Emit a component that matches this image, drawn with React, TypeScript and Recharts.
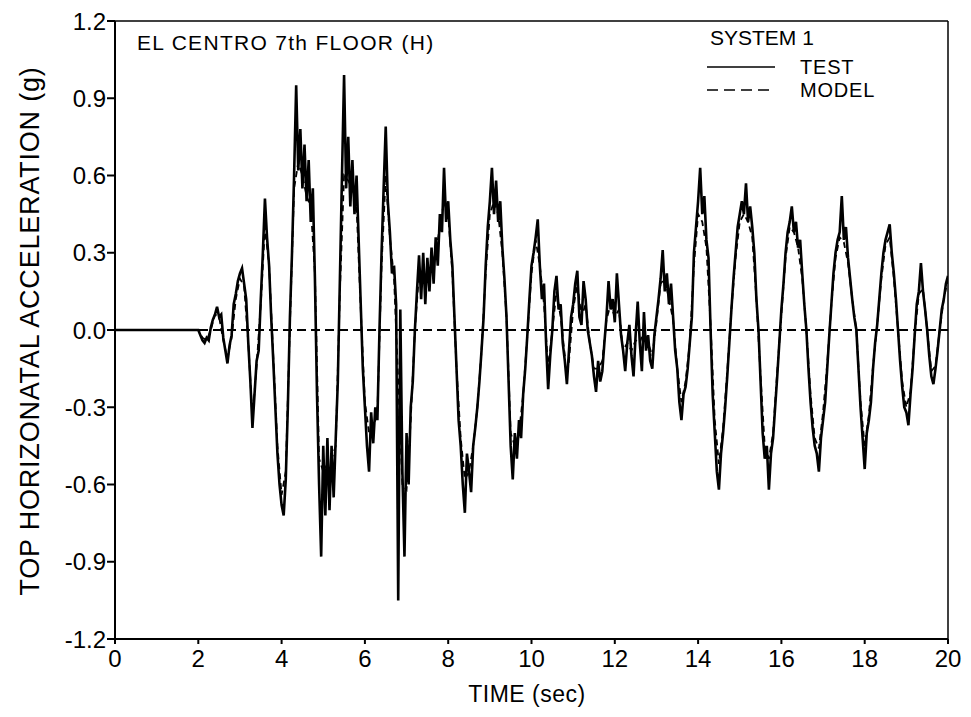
import React from "react";
import { LineChart, Line, XAxis, YAxis, ReferenceLine } from "recharts";

// ---- data ----
const timeStart = 2.0; // record before this is flat at zero
const testStep = 0.05;
const modelStep = 0.1;

const xTicks = [0, 2, 4, 6, 8, 10, 12, 14, 16, 18, 20];
const yTicks = [-1.2, -0.9, -0.6, -0.3, 0, 0.3, 0.6, 0.9, 1.2];

const testValues = [
  // 2.00 - 2.95
  0, -0.02, -0.04, -0.05, -0.03, -0.04, 0.01, 0.04, 0.06, 0.09, 0.05, 0.06, -0.03, -0.08, -0.13, -0.06, -0.02, 0.1, 0.14, 0.19,
  // 3
  0.22, 0.24, 0.18, 0.12, -0.05, -0.2, -0.38, -0.25, -0.12, -0.08, 0.12, 0.3, 0.51, 0.36, 0.25, 0.05, -0.12, -0.3, -0.48, -0.6,
  // 4
  -0.68, -0.72, -0.58, -0.3, 0.05, 0.3, 0.6, 0.95, 0.62, 0.78, 0.55, 0.72, 0.5, 0.66, 0.42, 0.55, 0.2, -0.25, -0.6, -0.88,
  // 5
  -0.45, -0.72, -0.42, -0.7, -0.45, -0.65, -0.42, -0.2, 0.2, 0.6, 0.99, 0.55, 0.75, 0.48, 0.66, 0.45, 0.6, 0.35, 0.1, -0.15,
  // 6
  -0.3, -0.45, -0.55, -0.32, -0.44, -0.3, -0.35, 0.0, 0.3, 0.55, 0.79, 0.5, 0.38, 0.22, 0.25, 0.1, -1.05, 0.08, -0.55, -0.88,
  // 7
  -0.4, -0.6, -0.3, -0.2, 0.0, 0.15, 0.29, 0.12, 0.3, 0.1, 0.28, 0.15, 0.32, 0.18, 0.36, 0.25, 0.45, 0.38, 0.63, 0.42,
  // 8
  0.5, 0.35, 0.25, 0.05, -0.15, -0.35, -0.45, -0.6, -0.71, -0.48, -0.55, -0.63, -0.45, -0.38, -0.3, -0.2, -0.08, 0.05, 0.25, 0.4,
  // 9
  0.5, 0.63, 0.45, 0.58, 0.42, 0.5, 0.32, 0.2, 0.05, -0.2, -0.45, -0.58, -0.4, -0.5, -0.35, -0.42, -0.25, -0.15, -0.02, 0.12,
  // 10
  0.25, 0.3, 0.36, 0.43, 0.25, 0.12, 0.18, -0.05, -0.23, -0.1, 0.0, 0.15, 0.21, 0.08, 0.1, -0.05, -0.12, -0.21, -0.08, 0.05,
  // 11
  0.1, 0.18, 0.23, 0.05, 0.02, 0.19, 0.12, 0.0, -0.05, -0.1, -0.18, -0.24, -0.12, -0.2, -0.16, -0.05, 0.05, 0.19, 0.08, 0.12,
  // 12
  0.03, 0.22, 0.1, -0.02, -0.08, -0.16, -0.05, 0.02, -0.1, -0.18, -0.02, 0.11, -0.05, -0.16, 0.07, -0.08, -0.02, -0.12, -0.15, -0.02,
  // 13
  0.05, 0.12, 0.2, 0.31, 0.15, 0.22, 0.1, 0.18, 0.05, -0.08, -0.15, -0.28, -0.35, -0.25, -0.22, -0.15, -0.05, 0.05, 0.3, 0.4,
  // 14
  0.5, 0.63, 0.45, 0.52, 0.35, 0.28, 0.0, -0.25, -0.4, -0.55, -0.62, -0.48, -0.4, -0.3, -0.18, -0.05, 0.08, 0.2, 0.3, 0.4,
  // 15
  0.45, 0.5, 0.45, 0.57, 0.42, 0.48, 0.4, 0.3, 0.12, 0.0, -0.2, -0.4, -0.5, -0.45, -0.62, -0.48, -0.42, -0.3, -0.18, -0.05,
  // 16
  0.08, 0.18, 0.3, 0.38, 0.42, 0.48, 0.38, 0.42, 0.32, 0.35, 0.22, 0.1, 0.0, -0.15, -0.28, -0.38, -0.45, -0.48, -0.55, -0.42,
  // 17
  -0.35, -0.28, -0.15, -0.02, 0.1, 0.22, 0.3, 0.35, 0.38, 0.52, 0.35, 0.4, 0.28, 0.2, 0.12, 0.05, 0.0, -0.15, -0.3, -0.42,
  // 18
  -0.54, -0.4, -0.35, -0.28, -0.15, -0.05, 0.02, 0.12, 0.22, 0.3, 0.35, 0.38, 0.41, 0.3, 0.22, 0.12, 0.0, -0.12, -0.22, -0.3,
  // 19 - 20
  -0.32, -0.37, -0.25, -0.15, -0.02, 0.1, 0.15, 0.26, 0.15, 0.08, 0.0, -0.1, -0.18, -0.21, -0.15, -0.08, 0.0, 0.08, 0.12, 0.18, 0.21,
];

const modelValues = [
  // 2.0 - 2.9
  0, -0.03, -0.04, 0.0, 0.06, 0.05, -0.04, -0.11, -0.03, 0.12,
  0.2, 0.17, -0.05, -0.34, -0.14, 0.1, 0.4, 0.25, -0.1, -0.45,
  -0.64, -0.55, 0.02, 0.55, 0.65, 0.6, 0.52, 0.48, 0.22, -0.5,
  -0.55, -0.52, -0.5, -0.45, 0.15, 0.6, 0.58, 0.55, 0.48, 0.08,
  -0.28, -0.4, -0.38, -0.32, 0.25, 0.6, 0.36, 0.2, -0.2, -0.6,
  -0.62, -0.35, 0.0, 0.22, 0.22, 0.2, 0.25, 0.3, 0.4, 0.5,
  0.45, 0.22, -0.15, -0.42, -0.58, -0.55, -0.45, -0.3, -0.08, 0.22,
  0.45, 0.5, 0.45, 0.3, 0.05, -0.4, -0.45, -0.4, -0.25, -0.02,
  0.22, 0.35, 0.25, 0.1, -0.15, 0.0, 0.15, 0.05, -0.1, -0.12,
  0.08, 0.18, 0.05, 0.1, -0.05, -0.15, -0.15, -0.12, 0.04, 0.1,
  0.05, 0.08, -0.08, -0.05, -0.08, -0.04, -0.05, 0.0, -0.05, -0.1,
  0.03, 0.18, 0.2, 0.12, 0.04, -0.15, -0.28, -0.2, -0.05, 0.25,
  0.45, 0.42, 0.32, 0.02, -0.35, -0.52, -0.38, -0.16, 0.08, 0.28,
  0.42, 0.45, 0.42, 0.36, 0.12, -0.18, -0.45, -0.5, -0.4, -0.16,
  0.06, 0.28, 0.4, 0.38, 0.32, 0.2, 0.0, -0.25, -0.42, -0.46,
  -0.32, -0.13, 0.1, 0.28, 0.36, 0.34, 0.26, 0.12, 0.0, -0.28,
  -0.45, -0.33, -0.14, 0.02, 0.2, 0.33, 0.36, 0.2, 0.0, -0.2,
  -0.3, -0.24, -0.02, 0.14, 0.16, 0.0, -0.16, -0.14, 0.0, 0.12, 0.2,
];

const testData = [
  { t: 0, v: 0 },
  ...testValues.map((v, i) => ({ t: +(timeStart + i * testStep).toFixed(2), v })),
];
const modelData = [
  { t: 0, v: 0 },
  ...modelValues.map((v, i) => ({ t: +(timeStart + i * modelStep).toFixed(2), v })),
];

const FONT = "'Liberation Sans', Arial, Helvetica, sans-serif";

export default function App() {
  const W = 955;
  const H = 700;
  const OH = 709;
  return (
    <div style={{ position: "relative", width: W, height: OH, fontFamily: FONT }}>
      <LineChart width={W} height={H} margin={{ top: 13, right: 15, bottom: 29, left: 27 }}>
        <XAxis
          type="number"
          dataKey="t"
          domain={[0, 20]}
          ticks={xTicks}
          allowDataOverflow
          height={40}
          tickSize={5}
          tickMargin={6}
          axisLine={{ stroke: "#000", strokeWidth: 2 }}
          tickLine={{ stroke: "#000", strokeWidth: 2 }}
          tick={{ fill: "#000", fontSize: 24, fontFamily: FONT }}
        />
        <YAxis
          type="number"
          domain={[-1.2, 1.2]}
          ticks={yTicks}
          allowDataOverflow
          width={80}
          tickSize={8}
          tickMargin={1}
          tickFormatter={(v: number) => v.toFixed(1)}
          axisLine={{ stroke: "#000", strokeWidth: 2 }}
          tickLine={{ stroke: "#000", strokeWidth: 2 }}
          tick={{ fill: "#000", fontSize: 24, fontFamily: FONT }}
        />
        <ReferenceLine y={1.2} stroke="#000" strokeWidth={1.5} />
        <ReferenceLine x={20} stroke="#000" strokeWidth={1.5} />
        <ReferenceLine y={0} stroke="#000" strokeWidth={2} strokeDasharray="9 5" />
        <Line
          data={modelData}
          dataKey="v"
          type="linear"
          stroke="#000"
          strokeWidth={1.8}
          strokeDasharray="6 4"
          dot={false}
          isAnimationActive={false}
        />
        <Line
          data={testData}
          dataKey="v"
          type="linear"
          stroke="#000"
          strokeWidth={2.6}
          dot={false}
          isAnimationActive={false}
        />
      </LineChart>
      <svg
        width={W}
        height={OH}
        style={{ position: "absolute", left: 0, top: 0, pointerEvents: "none" }}
        fontFamily={FONT}
      >
        <text x={129} y={42} fontSize={21} letterSpacing={1.3} fill="#000">
          EL CENTRO 7th FLOOR (H)
        </text>
        <text x={702} y={37} fontSize={21} fill="#000">
          SYSTEM 1
        </text>
        <line x1={699} x2={767} y1={59} y2={59} stroke="#000" strokeWidth={1.6} />
        <text x={792} y={66} fontSize={20} letterSpacing={0.8} fill="#000">
          TEST
        </text>
        <line x1={699} x2={767} y1={82} y2={82} stroke="#000" strokeWidth={1.6} strokeDasharray="11 6" />
        <text x={792} y={89} fontSize={20} letterSpacing={0.8} fill="#000">
          MODEL
        </text>
        <text x={519} y={694} fontSize={23} letterSpacing={0.5} textAnchor="middle" fill="#000">
          TIME (sec)
        </text>
        <text
          x={22}
          y={323}
          fontSize={27}
          letterSpacing={0.8}
          textAnchor="middle"
          dominantBaseline="central"
          transform="rotate(-90 22 323)"
          fill="#000"
        >
          TOP HORIZONATAL ACCELERATION (g)
        </text>
      </svg>
    </div>
  );
}
